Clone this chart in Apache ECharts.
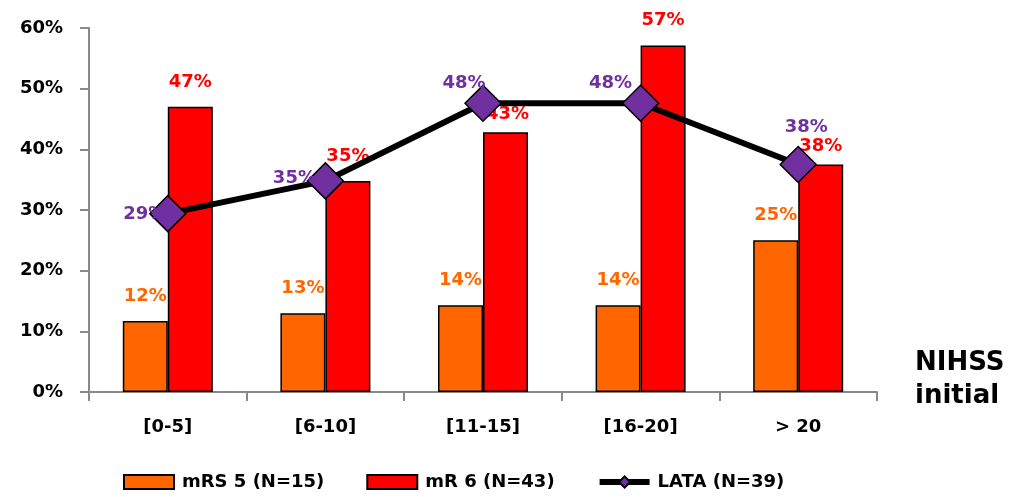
<!DOCTYPE html>
<html>
<head>
<meta charset="utf-8">
<script src="https://cdn.jsdelivr.net/npm/echarts@6/dist/echarts.min.js"></script>
<style>
  html, body { margin: 0; padding: 0; background: #fff; }
  #chart { width: 1020px; height: 497px; }
</style>
</head>
<body>
<div id="chart"></div>
<script>
// NIHSS score bands on the x axis
const categories = ['[0-5]', '[6-10]', '[11-15]', '[16-20]', '> 20'];
// Share of patients per band (fractions)
const mrs5 = [0.117, 0.130, 0.143, 0.143, 0.250];
const mr6 = [0.470, 0.348, 0.428, 0.571, 0.375];
const lata = [0.294, 0.348, 0.476, 0.476, 0.375];
const yTicks = [0, 0.1, 0.2, 0.3, 0.4, 0.5, 0.6];

const FONT = '"DejaVu Sans", "Open Sans", sans-serif';
const FS = 18;
const pct = v => Math.round(v * 100) + '%';

// Per-point label offsets for the line series (labels sit beside the markers)
const lataOffsets = [[-23, 1], [-31, -3], [-19, -20], [-30, -20], [8, -37]];
// Small nudges for bar labels that sit closer to their bars
const mr6Offsets = [[0, 0], [0, 0], [2, 7], [0, 0], [0, 7]];

const chart = echarts.init(document.getElementById('chart'));

chart.setOption({
  animation: false,
  textStyle: { fontFamily: FONT },
  grid: { left: 89, right: 143, top: 28, bottom: 105 },
  legend: {
    bottom: 1,
    left: 118,
    itemWidth: 50,
    itemHeight: 14,
    itemGap: 42,
    textStyle: { fontFamily: FONT, fontWeight: 'bold', fontSize: FS, color: '#000', padding: [0, 0, 0, 3] },
    data: [
      { name: 'mRS 5 (N=15)', icon: 'rect' },
      { name: 'mR 6 (N=43)', icon: 'rect' },
      {
        name: 'LATA (N=39)',
        lineStyle: { width: 6, color: '#000' }
      }
    ]
  },
  xAxis: {
    type: 'category',
    data: categories,
    boundaryGap: true,
    axisLine: { lineStyle: { color: '#898989', width: 2 } },
    axisTick: { show: true, length: 9, lineStyle: { color: '#898989', width: 2 } },
    axisLabel: { margin: 26, fontFamily: FONT, fontWeight: 'bold', fontSize: FS, color: '#000' }
  },
  yAxis: {
    type: 'value',
    min: yTicks[0],
    max: yTicks[yTicks.length - 1],
    interval: 0.1,
    splitLine: { show: false },
    axisLine: { show: true, lineStyle: { color: '#898989', width: 2 } },
    axisTick: { show: true, length: 9, lineStyle: { color: '#898989', width: 2 } },
    axisLabel: {
      margin: 26,
      fontFamily: FONT, fontWeight: 'bold', fontSize: FS, color: '#000',
      formatter: v => pct(v)
    }
  },
  graphic: [
    {
      type: 'text',
      left: 915,
      top: 347,
      style: {
        text: 'NIHSS\ninitial',
        fontFamily: FONT,
        fontWeight: 'bold',
        fontSize: 26,
        lineHeight: 33,
        align: 'center',
        fill: '#000'
      }
    }
  ],
  series: [
    {
      name: 'mRS 5 (N=15)',
      type: 'bar',
      data: mrs5,
      barWidth: 45,
      barGap: '0%',
      itemStyle: { color: '#FF6600', borderColor: '#000', borderWidth: 1.5 },
      label: {
        show: true,
        position: 'top',
        distance: 16,
        formatter: p => pct(p.value),
        fontFamily: FONT, fontWeight: 'bold', fontSize: FS, color: '#FF6600'
      }
    },
    {
      name: 'mR 6 (N=43)',
      type: 'bar',
      data: mr6.map((v, i) => ({
        value: v,
        label: { offset: mr6Offsets[i] }
      })),
      barWidth: 45,
      barGap: '0%',
      itemStyle: { color: '#FF0000', borderColor: '#000', borderWidth: 1.5 },
      label: {
        show: true,
        position: 'top',
        distance: 16,
        formatter: p => pct(p.value),
        fontFamily: FONT, fontWeight: 'bold', fontSize: FS, color: '#FF0000'
      }
    },
    {
      name: 'LATA (N=39)',
      type: 'line',
      data: lata.map((v, i) => ({
        value: v,
        label: { offset: lataOffsets[i] }
      })),
      symbol: 'diamond',
      symbolSize: 36,
      z: 5,
      lineStyle: { color: '#000', width: 6 },
      itemStyle: { color: '#7030A0', borderColor: '#000', borderWidth: 1.5 },
      label: {
        show: true,
        position: 'inside',
        formatter: p => pct(p.value),
        fontFamily: FONT, fontWeight: 'bold', fontSize: FS, color: '#7030A0'
      }
    }
  ]
});
</script>
</body>
</html>
